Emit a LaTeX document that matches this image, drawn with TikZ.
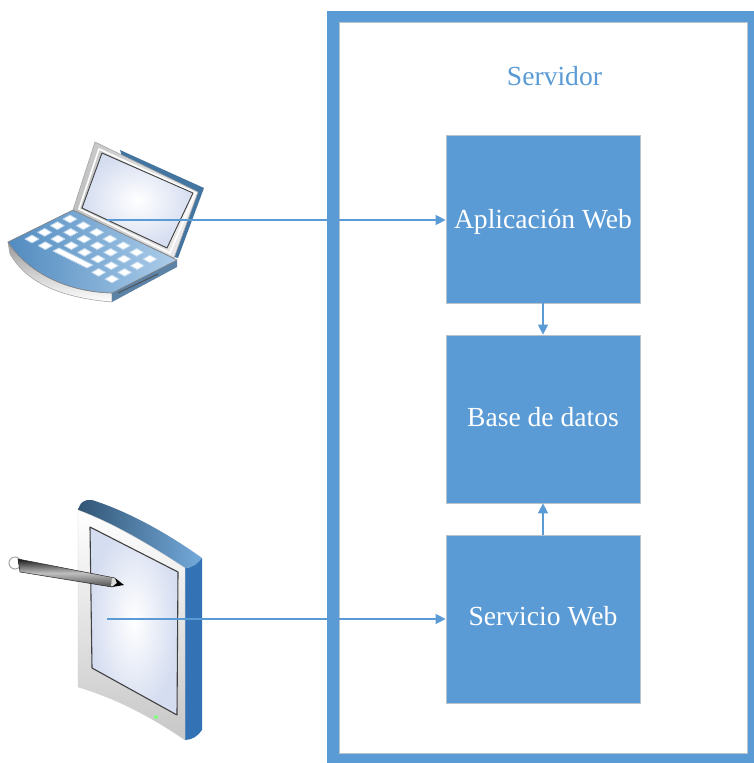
\documentclass[tikz,border=0pt]{standalone}
\usepackage{fontspec}
\setmainfont{Liberation Serif}
\usetikzlibrary{arrows.meta}
\definecolor{azul}{HTML}{5B9BD5}
\definecolor{borde}{HTML}{B9C3CC}
\definecolor{azulosc}{HTML}{3272B5}
\definecolor{panta}{HTML}{D5DDF0}
\tikzset{
  caja/.style={fill=azul,draw=borde,line width=.7pt,minimum width=194pt,minimum height=168pt,
    inner sep=0pt,text=white,text depth=0pt,text height=#1pt,font=\fontsize{27.6}{30}\selectfont},
  flecha/.style={draw=azul,line width=1.3pt,-{Triangle[length=10pt,width=10pt]}},
  tecla/.style={fill=white,draw=white!60!azul,line width=.8pt,line join=round},
  contorno/.style={draw=black!75,line width=.9pt,line join=round}
}
\begin{document}
\begin{tikzpicture}[x=1pt,y=-1pt]
\useasboundingbox (0,0) rectangle (754,763);
% server frame
\fill[azul,even odd rule] (327,11) rectangle (760,770) (339,22) rectangle (747,753);
\draw[borde,line width=.6pt] (339,22) rectangle (747,753);
\node[text=azul,anchor=base,font=\fontsize{27.6}{30}\selectfont] (srv) at (554.5,85) {Servidor};
\node[caja=18] (app) at (543,219) {Aplicación Web};
\node[caja=14] (bd) at (543,419) {Base de datos};
\node[caja=13] (ws) at (543,619) {Servicio Web};

% laptop
\fill[azul!75!black] (120,150) -- (204,188) -- (178,258) -- (150,250) -- cycle;
\shade[left color=black!25,right color=black!5,draw=black!35,line width=.6pt,line join=round]
  (73,210) -- (95,142) -- (198,192) -- (174,258) -- cycle;
\draw[white,line width=1.6pt,line join=round] (79,209) -- (99,149) -- (195,193) -- (170,253) -- cycle;
\shade[inner color=white,outer color=panta,contorno] (102,153) -- (193,193) -- (167,248) -- (82,208) -- cycle;
\shade[top color=black!40,bottom color=white,draw=black!35,line width=.6pt,line join=round]
  (8,242) .. controls (30,275) and (70,292) .. (112,293) -- (112,302) .. controls (65,298) and (28,285) .. (10,254) -- cycle;
\fill[azul!70!black!85!white] (112,293) -- (177,260) -- (177,267) -- (112,302) -- cycle;
\draw[black!70,line width=.8pt] (118,293) -- (158,274);
\shade[left color=azul!90!black,right color=azul!50!white,draw=black!50,line width=.6pt,line join=round]
  (8,242) -- (73,210) -- (177,260) -- (112,293) .. controls (70,292) and (30,275) .. (8,242) -- cycle;
\foreach \j/\list in {0/{0,1,2,3,4,5,6},1/{0,1,2,3,4,5,6},2/{0,1,2,3,4,5,6},3/{0,1,5,6}}{
  \foreach \i in \list{
    \begin{scope}[shift={(70+13.33*\i-12.67*\j,219+6.67*\i+6.67*\j)}]
      \filldraw[tecla] (-7,0) -- (0,-3.9) -- (7,0) -- (0,3.9) -- cycle;
    \end{scope}
  }
}
\filldraw[tecla] (53,251) -- (59,248) -- (93,265) -- (87,268) -- cycle;

% tablet
\shade[left color=black!45!azul,right color=azul!85!white]
  (78,512) .. controls (79,502) and (85,499) .. (92,500) .. controls (130,512) and (170,535) .. (202,558) .. controls (198,564) and (192,568) .. (185,568) -- cycle;
\fill[azulosc] (185,568) .. controls (192,568) and (198,564) .. (202,558) -- (202,730) .. controls (198,736) and (192,740) .. (185,740) -- cycle;
\shade[top color=white,middle color=white,bottom color=black!22,draw=black!18,line width=.4pt,line join=round]
  (78,510) .. controls (115,524) and (150,545) .. (185,568) -- (185,740) .. controls (150,716) and (115,698) .. (78,687) -- cycle;
\shade[inner color=white,outer color=panta,contorno,line width=1.1pt] (90,527) -- (178,572) -- (177,715) -- (92,668) -- cycle;
\fill[green!50!white] (156,717) circle (2pt);
% pen
\fill[white,draw=black!35,line width=1pt] (15,563) circle (6);
\shade[top color=black!90,bottom color=black!70,middle color=black!25,draw=black!85,line width=.5pt]
  (18,559) -- (115,578) -- (112,587) -- (20,572) -- cycle;
\fill[black!15] (112,578) -- (118,579) -- (117,586) -- (111,586) -- cycle;
\fill[black] (115,578) -- (124,585) -- (112,587) -- (117,583) -- cycle;

% connectors
\coordinate (lap) at (107,220);
\coordinate (tab) at (107,619);
\draw[flecha] (lap) -- (lap -| app.west);
\draw[flecha] (tab) -- (tab -| ws.west);
\draw[flecha] (app.south) -- (bd.north);
\draw[flecha] (ws.north) -- (bd.south);
\end{tikzpicture}
\end{document}
